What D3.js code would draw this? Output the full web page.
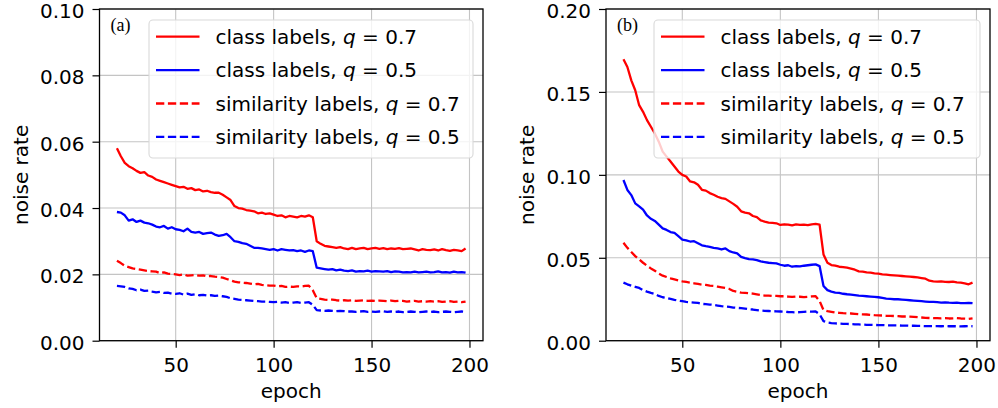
<!DOCTYPE html>
<html>
<head>
<meta charset="utf-8">
<script src="https://cdn.jsdelivr.net/npm/d3@7"></script>
<style>
  body { margin: 0; background: #fff; }
  svg { display: block; font-family: "DejaVu Sans", sans-serif; }
</style>
</head>
<body>
<svg id="chart" width="998" height="408"></svg>
<script>
// epochs sampled every 2
const epochs = [
  20, 22, 24, 26, 28, 30, 32, 34, 36, 38,
  40, 42, 44, 46, 48, 50, 52, 54, 56, 58,
  60, 62, 64, 66, 68, 70, 72, 74, 76, 78,
  80, 82, 84, 86, 88, 90, 92, 94, 96, 98,
  100, 102, 104, 106, 108, 110, 112, 114, 116, 118,
  120, 122, 124, 126, 128, 130, 132, 134, 136, 138,
  140, 142, 144, 146, 148, 150, 152, 154, 156, 158,
  160, 162, 164, 166, 168, 170, 172, 174, 176, 178,
  180, 182, 184, 186, 188, 190, 192, 194, 196, 198
];

// panel (a)
const aClass07 = [
  .0580, .0556, .0536, .0526, .0520, .0512, .0506, .0508, .0498, .0494,
  .0486, .0482, .0478, .0474, .0470, .0466, .0462, .0464, .0458, .0460,
  .0454, .0456, .0450, .0452, .0448, .0446, .0446, .0440, .0432, .0424,
  .0406, .0400, .0398, .0394, .0392, .0390, .0384, .0386, .0382, .0384,
  .0380, .0376, .0378, .0372, .0376, .0374, .0372, .0376, .0374, .0378,
  .0372, .0300, .0292, .0286, .0284, .0282, .0280, .0282, .0278, .0276,
  .0280, .0276, .0278, .0280, .0276, .0278, .0280, .0277, .0279, .0276,
  .0278, .0277, .0279, .0276, .0277, .0278, .0275, .0272, .0276, .0274,
  .0273, .0275, .0272, .0276, .0273, .0271, .0274, .0272, .0270, .0278
];
const aClass05 = [
  .0388, .0386, .0378, .0362, .0366, .0358, .0362, .0356, .0354, .0350,
  .0344, .0342, .0346, .0338, .0342, .0336, .0334, .0330, .0338, .0328,
  .0326, .0328, .0322, .0324, .0326, .0320, .0316, .0318, .0322, .0312,
  .0300, .0298, .0294, .0292, .0286, .0280, .0280, .0278, .0276, .0274,
  .0276, .0272, .0276, .0274, .0272, .0273, .0270, .0272, .0268, .0272,
  .0270, .0220, .0218, .0216, .0214, .0216, .0212, .0214, .0211, .0210,
  .0212, .0208, .0210, .0209, .0211, .0208, .0210, .0209, .0208, .0210,
  .0207, .0209, .0208, .0206, .0207, .0206, .0208, .0206, .0207, .0208,
  .0206, .0207, .0209, .0206, .0207, .0205, .0208, .0206, .0207, .0205
];
const aSim07 = [
  .0241, .0234, .0226, .0222, .0218, .0216, .0214, .0212, .0210, .0209,
  .0208, .0204, .0206, .0202, .0201, .0200, .0198, .0200, .0196, .0197,
  .0198, .0196, .0197, .0194, .0195, .0193, .0192, .0190, .0186, .0182,
  .0178, .0176, .0175, .0174, .0172, .0170, .0171, .0168, .0167, .0166,
  .0166, .0164, .0165, .0162, .0163, .0162, .0164, .0163, .0165, .0166,
  .0152, .0128, .0126, .0124, .0123, .0124, .0122, .0121, .0122, .0121,
  .0122, .0120, .0121, .0122, .0120, .0121, .0120, .0121, .0120, .0119,
  .0121, .0119, .0120, .0120, .0118, .0119, .0120, .0118, .0119, .0118,
  .0119, .0118, .0119, .0117, .0118, .0119, .0117, .0118, .0116, .0118
];
const aSim05 = [
  .0165, .0164, .0162, .0158, .0156, .0152, .0154, .0150, .0151, .0148,
  .0146, .0147, .0144, .0145, .0142, .0141, .0143, .0139, .0142, .0138,
  .0140, .0137, .0138, .0136, .0137, .0135, .0136, .0134, .0132, .0128,
  .0126, .0124, .0123, .0122, .0121, .0120, .0119, .0118, .0118, .0117,
  .0116, .0117, .0115, .0116, .0114, .0115, .0116, .0114, .0115, .0116,
  .0108, .0092, .0091, .0090, .0091, .0090, .0089, .0090, .0089, .0088,
  .0088, .0087, .0088, .0089, .0087, .0088, .0087, .0088, .0089, .0087,
  .0088, .0087, .0088, .0086, .0087, .0088, .0087, .0086, .0087, .0088,
  .0087, .0088, .0086, .0087, .0088, .0087, .0086, .0087, .0088, .0087
];

// panel (b)
const bClass07 = [
  .1697, .1650, .1570, .1510, .1420, .1380, .1330, .1290, .1250, .1200,
  .1140, .1110, .1080, .1050, .1020, .1000, .0990, .0960, .0955, .0940,
  .0910, .0905, .0890, .0880, .0868, .0860, .0855, .0840, .0825, .0808,
  .0780, .0772, .0768, .0752, .0745, .0725, .0718, .0712, .0710, .0708,
  .0698, .0702, .0700, .0695, .0701, .0698, .0700, .0697, .0702, .0704,
  .0700, .0520, .0470, .0456, .0452, .0446, .0444, .0440, .0435, .0428,
  .0418, .0416, .0412, .0410, .0406, .0404, .0400, .0398, .0396, .0394,
  .0392, .0390, .0388, .0386, .0384, .0382, .0378, .0374, .0362, .0358,
  .0356, .0358, .0355, .0354, .0356, .0352, .0350, .0346, .0340, .0350
];
const bClass05 = [
  .0969, .0909, .0878, .0828, .0810, .0790, .0755, .0735, .0722, .0700,
  .0677, .0668, .0655, .0650, .0630, .0610, .0605, .0598, .0600, .0588,
  .0575, .0570, .0566, .0560, .0556, .0550, .0556, .0540, .0532, .0526,
  .0505, .0498, .0492, .0490, .0486, .0478, .0474, .0470, .0468, .0466,
  .0458, .0452, .0455, .0446, .0450, .0448, .0452, .0455, .0458, .0460,
  .0450, .0330, .0305, .0296, .0290, .0288, .0283, .0280, .0278, .0275,
  .0272, .0270, .0268, .0266, .0264, .0262, .0258, .0254, .0252, .0250,
  .0250, .0248, .0246, .0244, .0242, .0240, .0238, .0236, .0234, .0234,
  .0232, .0230, .0231, .0229, .0228, .0229, .0227, .0226, .0228, .0226
];
const bSim07 = [
  .0591, .0560, .0535, .0510, .0490, .0470, .0452, .0436, .0422, .0405,
  .0392, .0384, .0376, .0370, .0364, .0358, .0354, .0350, .0346, .0342,
  .0338, .0336, .0332, .0330, .0326, .0322, .0318, .0312, .0300, .0295,
  .0290, .0288, .0286, .0284, .0280, .0276, .0272, .0272, .0270, .0270,
  .0268, .0268, .0266, .0264, .0266, .0265, .0263, .0265, .0267, .0268,
  .0240, .0185, .0178, .0174, .0170, .0168, .0166, .0165, .0164, .0162,
  .0160, .0159, .0158, .0156, .0154, .0153, .0152, .0150, .0150, .0149,
  .0148, .0146, .0146, .0145, .0144, .0142, .0140, .0138, .0137, .0136,
  .0136, .0135, .0136, .0134, .0135, .0136, .0134, .0133, .0132, .0135
];
const bSim05 = [
  .0350, .0340, .0332, .0325, .0318, .0305, .0296, .0288, .0282, .0270,
  .0262, .0258, .0252, .0246, .0242, .0238, .0234, .0232, .0230, .0228,
  .0222, .0220, .0218, .0216, .0212, .0208, .0206, .0204, .0200, .0198,
  .0196, .0194, .0190, .0188, .0185, .0182, .0180, .0179, .0178, .0177,
  .0176, .0175, .0173, .0172, .0171, .0172, .0174, .0176, .0175, .0176,
  .0160, .0118, .0110, .0106, .0104, .0103, .0102, .0101, .0100, .0099,
  .0098, .0097, .0096, .0096, .0095, .0094, .0094, .0093, .0093, .0092,
  .0092, .0091, .0091, .0090, .0090, .0089, .0089, .0088, .0088, .0088,
  .0088, .0087, .0088, .0087, .0088, .0087, .0086, .0087, .0088, .0087
];

const seriesNames = ["class labels", "class labels", "similarity labels", "similarity labels"];
const qValues = ["0.7", "0.5", "0.7", "0.5"];
const seriesColors = ["#ff0000", "#0000ff", "#ff0000", "#0000ff"];
const seriesDashed = [false, false, true, true];

const xTicks = [50, 100, 150, 200];
const aYTicks = [0, 0.02, 0.04, 0.06, 0.08, 0.10];
const bYTicks = [0, 0.05, 0.10, 0.15, 0.20];

const panels = [
  { tag: "(a)", left: 99.5, right: 483, yMax: 0.10, yTicks: aYTicks, fmt: ".2f",
    data: [aClass07, aClass05, aSim07, aSim05], legendX: 149, legendW: 324 },
  { tag: "(b)", left: 606, right: 990, yMax: 0.20, yTicks: bYTicks, fmt: ".2f",
    data: [bClass07, bClass05, bSim07, bSim05], legendX: 654, legendW: 326 }
];

const plotTop = 9, plotBottom = 340.7;
const fontSize = 20;
const svg = d3.select("#chart");

panels.forEach(p => {
  const x = d3.scaleLinear().domain([11.1, 206.9]).range([p.left, p.right]);
  const y = d3.scaleLinear().domain([0, p.yMax]).range([plotBottom, plotTop]);
  const g = svg.append("g");

  // grid
  g.selectAll(".vgrid").data(xTicks).enter().append("line")
    .attr("x1", d => x(d)).attr("x2", d => x(d))
    .attr("y1", plotTop).attr("y2", plotBottom)
    .attr("stroke", "#c4c4c4").attr("stroke-width", 1.1);
  g.selectAll(".hgrid").data(p.yTicks).enter().append("line")
    .attr("x1", p.left).attr("x2", p.right)
    .attr("y1", d => y(d)).attr("y2", d => y(d))
    .attr("stroke", "#c4c4c4").attr("stroke-width", 1.1);

  // data lines
  const line = d3.line().x((d, i) => x(epochs[i])).y(d => y(d));
  p.data.forEach((vals, k) => {
    g.append("path")
      .datum(vals)
      .attr("d", line)
      .attr("fill", "none")
      .attr("stroke", seriesColors[k])
      .attr("stroke-width", 2.3)
      .attr("stroke-dasharray", seriesDashed[k] ? "8.3,3.6" : null)
      .attr("stroke-linejoin", "round");
  });

  // axes
  const yAxis = d3.axisLeft(y).tickValues(p.yTicks).tickFormat(d3.format(p.fmt))
    .tickSize(7).tickPadding(8);
  const xAxis = d3.axisBottom(x).tickValues(xTicks).tickFormat(d3.format("d"))
    .tickSize(7).tickPadding(10);

  const ya = g.append("g").attr("transform", `translate(${p.left},0)`).call(yAxis);
  const xa = g.append("g").attr("transform", `translate(0,${plotBottom})`).call(xAxis);
  [ya, xa].forEach(a => {
    a.select(".domain").remove();
    a.selectAll(".tick line").attr("stroke", "#000").attr("stroke-width", 1.2);
    a.selectAll(".tick text").attr("fill", "#000")
      .style("font-size", fontSize + "px")
      .style("font-family", "'DejaVu Sans', sans-serif");
  });
  ya.selectAll(".tick text").attr("dy", "0.43em");

  // frame
  g.append("rect")
    .attr("x", p.left).attr("y", plotTop)
    .attr("width", p.right - p.left).attr("height", plotBottom - plotTop)
    .attr("fill", "none").attr("stroke", "#000").attr("stroke-width", 1.3);

  // axis titles
  g.append("text")
    .attr("x", (p.left + p.right) / 2).attr("y", 398)
    .attr("text-anchor", "middle")
    .style("font-size", fontSize + "px")
    .text("epoch");
  g.append("text")
    .attr("transform", `translate(${p.left - 72},${(plotTop + plotBottom) / 2}) rotate(-90)`)
    .attr("text-anchor", "middle")
    .style("font-size", fontSize + "px")
    .text("noise rate");

  // panel tag
  g.append("text")
    .attr("x", p.left + 11).attr("y", 31)
    .style("font-family", "'Liberation Serif', serif")
    .style("font-size", "18px")
    .text(p.tag);

  // legend
  const lg = g.append("g");
  lg.append("rect")
    .attr("x", p.legendX).attr("y", 20)
    .attr("width", p.legendW).attr("height", 138)
    .attr("rx", 4)
    .attr("fill", "#fff").attr("fill-opacity", 0.8)
    .attr("stroke", "#d9d9d9").attr("stroke-width", 1.1);
  seriesNames.forEach((name, k) => {
    const cy = 36.7 + k * 33.4;
    lg.append("line")
      .attr("x1", p.legendX + 7).attr("x2", p.legendX + 50.5)
      .attr("y1", cy).attr("y2", cy)
      .attr("stroke", seriesColors[k]).attr("stroke-width", 2.3)
      .attr("stroke-dasharray", seriesDashed[k] ? "8.3,3.6" : null);
    const t = lg.append("text")
      .attr("x", p.legendX + 66.5).attr("y", cy + 7)
      .style("font-size", fontSize + "px");
    t.append("tspan").text(name + ", ");
    t.append("tspan").style("font-style", "italic").text("q");
    t.append("tspan").text(" = " + qValues[k]);
  });
});
</script>
</body>
</html>
